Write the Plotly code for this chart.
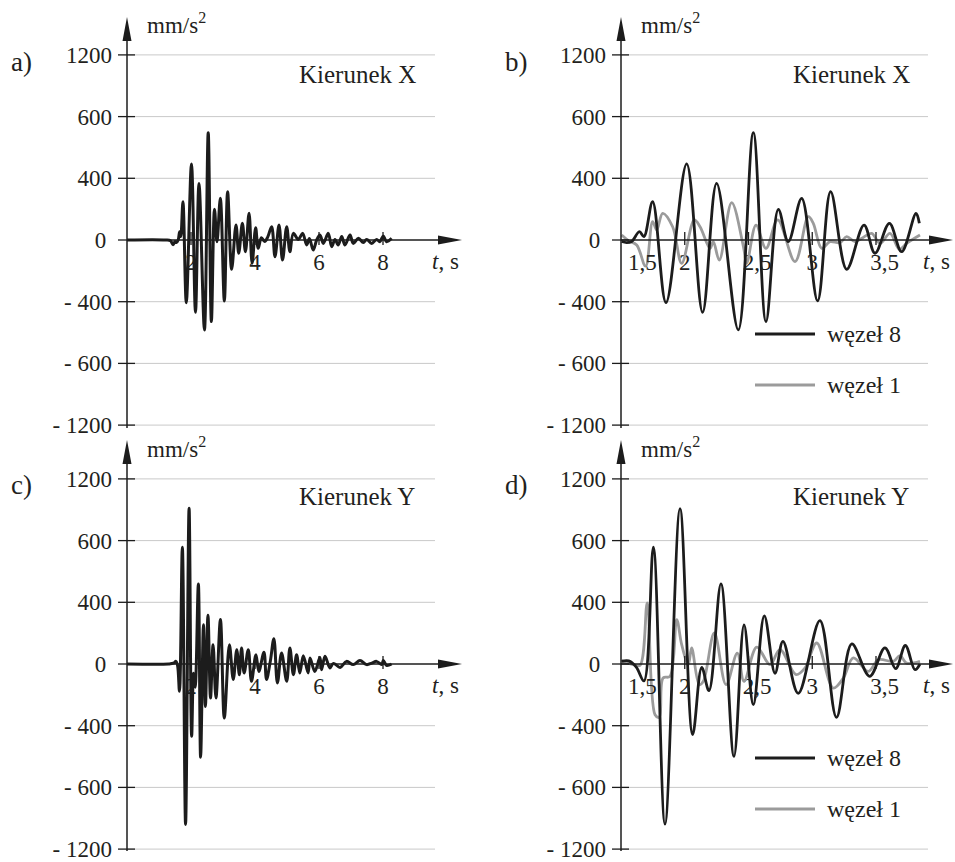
import plotly.graph_objects as go

W, H = 955, 862
FONT = "Liberation Serif"
TXT = "#231f20"
BLACK = "#1c1c1c"
GRAY = "#9b9b9b"
GRID = "#c9c9c9"

# ---------------- data ----------------
y_tickvals = [-1200, -800, -400, 0, 400, 800, 1200]
y_ticktext = ["- 1200", "- 600", "- 400", "0", "400", "600", "1200"]
xa_tickvals = [2, 4, 6, 8]
xa_ticktext = ["2", "4", "6", "8"]
xb_tickvals = [1.5, 2, 2.5, 3, 3.5]
xb_ticktext = ["1,5", "2", "2,5", "3", "3,5"]

# a) Kierunek X, full record
t_a = [0.0, 1.20, 1.36, 1.44, 1.50, 1.544, 1.60, 1.644, 1.68, 1.748, 1.853, 2.015, 2.14, 2.25, 2.42,
       2.538, 2.637, 2.734, 2.812, 2.917, 3.042, 3.144, 3.27, 3.406, 3.492, 3.605, 3.701, 3.814, 3.91,
       4.02, 4.10, 4.20, 4.30, 4.40, 4.52, 4.625, 4.75, 4.86, 4.99, 5.09, 5.198, 5.354, 5.49, 5.615,
       5.70, 5.82, 5.927, 6.03, 6.135, 6.29, 6.396, 6.50, 6.60, 6.71, 6.81, 6.97, 7.07, 7.23, 7.385,
       7.49, 7.646, 7.80, 7.90, 8.01, 8.11, 8.27]
acc_a = [0, 0, -5, -30, -10, -17, 0, 54, 22, 248, -406, 493, -469, 367, -583,
         696, -529, 199, -11, 270, -395, 313, -190, 97, -86, 108, -76, 173, -151,
         80, -54, 15, -10, 20, 86, -108, 97, -130, 86, -76, 43, 4, 43, -32,
         10, -65, 0, 32, -22, 43, -43, 4, -32, 22, -32, 32, -22, 11, -17,
         4, -22, 4, -11, 26, -11, 11]

# b) Kierunek X, zoomed: wezel 8 and wezel 1
t_b8 = [1.505, 1.544, 1.584, 1.644, 1.68, 1.748, 1.853, 2.015, 2.14, 2.25, 2.42, 2.538, 2.637,
        2.734, 2.812, 2.917, 3.042, 3.144, 3.27, 3.406, 3.492, 3.605, 3.701, 3.814, 3.84]
acc_b8 = [-10, -17, -10, 54, 22, 248, -406, 493, -469, 367, -583, 696, -529,
          199, -11, 270, -395, 313, -190, 97, -86, 108, -76, 173, 108]
t_b1 = [1.505, 1.558, 1.623, 1.693, 1.748, 1.78, 1.827, 1.905, 1.976, 2.075, 2.12, 2.198, 2.224,
        2.271, 2.368, 2.46, 2.486, 2.559, 2.637, 2.729, 2.865, 2.969, 3.008, 3.074, 3.139, 3.218,
        3.27, 3.335, 3.40, 3.466, 3.531, 3.61, 3.683, 3.74, 3.845]
acc_b1 = [32, -4, -32, -170, 119, 65, 173, 86, -151, 130, 86, -54, -11,
          -130, 242, -43, -151, 97, -54, 130, -140, 151, 108, -54, -11, -17,
          22, -11, 17, 43, -22, 43, -60, -22, 32]

# c) Kierunek Y, full record
t_c = [0.0, 1.30, 1.45, 1.53, 1.58, 1.64, 1.73, 1.83, 1.94, 2.02, 2.08, 2.13, 2.23, 2.30, 2.39,
       2.45, 2.53, 2.61, 2.69, 2.78, 2.92, 3.04, 3.20, 3.32, 3.43, 3.51, 3.58, 3.66, 3.79, 3.89,
       4.03, 4.12, 4.28, 4.36, 4.48, 4.59, 4.70, 4.83, 4.99, 5.09, 5.20, 5.30, 5.40, 5.51, 5.66,
       5.72, 5.87, 6.03, 6.08, 6.19, 6.34, 6.45, 6.66, 6.86, 7.07, 7.28, 7.49, 7.65, 7.80, 7.96,
       8.01, 8.11, 8.27]
acc_c = [0, 0, 5, 17, -10, -177, 757, -1040, 1010, -469, -60, -150, 519, -605, 255,
         -275, 316, -220, 125, -220, 288, -350, 125, -100, 93, -70, 104, -58, 93, -112,
         60, -48, 76, -100, 20, 164, -123, 71, -112, 104, -69, 60, -58, 54, -58,
         39, -48, 43, -37, 50, -26, 4, -22, 17, -4, 22, -4, 6, 17, -4,
         22, -9, 0]

# d) Kierunek Y, zoomed: wezel 8 and wezel 1
t_d8 = [1.505, 1.56, 1.62, 1.68, 1.754, 1.845, 1.963, 2.062, 2.133, 2.19, 2.284, 2.386, 2.465,
        2.538, 2.624, 2.708, 2.77, 2.89, 3.06, 3.19, 3.31, 3.45, 3.57, 3.655, 3.73, 3.806, 3.845]
acc_d8 = [17, 20, -20, -110, 757, -1038, 1007, -458, -22, -173, 519, -599, 253,
          -264, 312, -60, 147, -190, 281, -346, 130, -80, 104, -30, 120, -37, 0]
t_d1 = [1.505, 1.597, 1.649, 1.706, 1.767, 1.80, 1.83, 1.884, 1.937, 1.976, 2.028, 2.054, 2.114,
        2.146, 2.232, 2.324, 2.412, 2.465, 2.565, 2.669, 2.747, 2.873, 2.943, 3.035, 3.165, 3.244,
        3.322, 3.44, 3.518, 3.636, 3.688, 3.74, 3.845]
acc_d1 = [22, -4, -9, 396, -329, -346, -91, -80, 288, 125, -4, 104, -134,
          -112, 201, -134, 71, -112, 110, -4, 93, -69, -26, 136, -156, -91,
          39, -48, 28, 17, 54, 6, 17]

panel_labels = ["a)", "b)", "c)", "d)"]
directions = ["Kierunek X", "Kierunek X", "Kierunek Y", "Kierunek Y"]
unit_label = "mm/s<sup>2</sup>"
axis_label = "<i>t</i>, s"
legend_names = ["węzeł 8", "węzeł 1"]

# ---------------- geometry (pixels) ----------------
PXU = 61.7 / 400.0  # px per mm/s2 unit
LPAD = 14           # px of room left of the y axis inside the subplot
TPAD = 3            # px of room above the arrow tip


def xdom(p0, p1):
    return [p0 / W, p1 / W]


def ydom(top, bottom):
    return [1 - bottom / H, 1 - top / H]


panels = [
    dict(ax=127, xe=462, x0=0.0, pps=32.0, yt=17, yb=428, z=240, gend=435,
         tv=xa_tickvals, tt=xa_ticktext, pad=[0, 0, 0, 0]),
    dict(ax=621, xe=953, x0=1.5, pps=127.5, yt=17, yb=428, z=240, gend=928,
         tv=xb_tickvals, tt=xb_ticktext, pad=[0, 0, 3, 0, 3]),
    dict(ax=127, xe=462, x0=0.0, pps=32.0, yt=440, yb=851, z=664, gend=435,
         tv=xa_tickvals, tt=xa_ticktext, pad=[0, 0, 0, 0]),
    dict(ax=621, xe=953, x0=1.5, pps=127.5, yt=440, yb=851, z=664, gend=928,
         tv=xb_tickvals, tt=xb_ticktext, pad=[0, 0, 3, 0, 3]),
]

series = [
    [(t_a, acc_a, BLACK, 3.0)],
    [(t_b1, acc_b1, GRAY, 2.8), (t_b8, acc_b8, BLACK, 2.8)],
    [(t_c, acc_c, BLACK, 3.0)],
    [(t_d1, acc_d1, GRAY, 2.8), (t_d8, acc_d8, BLACK, 2.8)],
]

fig = go.Figure()
shapes = []
annotations = []
layout = {}

for i, p in enumerate(panels):
    n = "" if i == 0 else str(i + 1)
    xr, yr = "x" + n, "y" + n
    x0 = p["x0"]
    xs = x0 - LPAD / p["pps"]
    x1 = x0 + (p["xe"] - p["ax"]) / p["pps"]
    ytip = (p["z"] - p["yt"]) / PXU
    ymax = (p["z"] - p["yt"] + TPAD) / PXU
    ymin = -(p["yb"] - p["z"]) / PXU
    gx = x0 + (p["gend"] - p["ax"]) / p["pps"]

    for (tx, vy, col, lw) in series[i]:
        fig.add_trace(go.Scatter(x=tx, y=vy, mode="lines", xaxis=xr, yaxis=yr,
                                 line=dict(color=col, width=lw, shape="spline", smoothing=1.0),
                                 showlegend=False, hoverinfo="skip"))

    # x tick labels: the one sitting on the y axis is set just right of it
    tvals, ttext = [], []
    for k, (v, s) in enumerate(zip(p["tv"], p["tt"])):
        if v == x0:
            annotations.append(dict(text=s, xref=xr, yref=yr, x=v, y=0, xanchor="left",
                                    yanchor="middle", xshift=5, yshift=-22, showarrow=False,
                                    font=dict(family=FONT, size=23, color=TXT)))
        else:
            tvals.append(v)
            ttext.append("\u00a0" * p["pad"][k] + s)
    layout["xaxis" + n] = dict(domain=xdom(p["ax"] - LPAD, p["xe"]), range=[xs, x1], anchor="free",
                               position=1 - p["z"] / H, showgrid=False, zeroline=False,
                               showline=False, ticks="", tickvals=tvals, ticktext=ttext,
                               tickfont=dict(family=FONT, size=23, color=TXT), automargin=False,
                               layer="below traces", ticklabelstandoff=6, fixedrange=True,
                               ticklabeloverflow="allow")
    ytt = [s + "\u00a0" if s == "0" else s for s in y_ticktext]
    layout["yaxis" + n] = dict(domain=ydom(p["yt"] - TPAD, p["yb"]), range=[ymin, ymax],
                               anchor="free", position=p["ax"] / W,
                               showgrid=False, zeroline=False, showline=False, ticks="",
                               tickvals=y_tickvals, ticktext=ytt, automargin=False,
                               tickfont=dict(family=FONT, size=23, color=TXT),
                               ticklabelstandoff=15, fixedrange=True, ticklabeloverflow="allow")

    # light horizontal gridlines
    for v in y_tickvals:
        if v == 0:
            continue
        shapes.append(dict(type="line", xref=xr, yref=yr, x0=x0, x1=gx, y0=v, y1=v,
                           line=dict(color=GRID, width=1), layer="below"))
    # y tick marks crossing the axis
    for v in y_tickvals:
        shapes.append(dict(type="line", xref=xr, yref=yr, xsizemode="pixel", xanchor=x0,
                           x0=-9, x1=8, y0=v, y1=v, line=dict(color=BLACK, width=1.3)))
    # x tick marks
    for v in p["tv"]:
        if v == x0:
            continue
        shapes.append(dict(type="line", xref=xr, yref=yr, ysizemode="pixel", yanchor=0,
                           y0=-5, y1=8, x0=v, x1=v, line=dict(color=BLACK, width=1.3)))
    # axis lines
    shapes.append(dict(type="line", xref=xr, yref=yr, x0=x0, x1=x1 - 10 / p["pps"], y0=0, y1=0,
                       line=dict(color=BLACK, width=1.5)))
    shapes.append(dict(type="line", xref=xr, yref=yr, x0=x0, x1=x0, y0=ymin,
                       y1=ytip - 10 / PXU, line=dict(color=BLACK, width=1.5)))
    # arrow heads
    shapes.append(dict(type="path", xref=xr, yref=yr, xsizemode="pixel", ysizemode="pixel",
                       xanchor=x1, yanchor=0, path="M0,0 L-24,4.5 L-24,-4.5 Z",
                       fillcolor=BLACK, line=dict(width=0)))
    shapes.append(dict(type="path", xref=xr, yref=yr, xsizemode="pixel", ysizemode="pixel",
                       xanchor=x0, yanchor=ytip, path="M0,0 L-4.5,-24 L4.5,-24 Z",
                       fillcolor=BLACK, line=dict(width=0)))

    # texts
    left = p["ax"]
    top = p["yt"]
    annotations.append(dict(text=panel_labels[i], xref="paper", yref="paper",
                            x=(left - 118) / W, y=1 - (top + 45) / H, xanchor="left", yanchor="middle",
                            showarrow=False, font=dict(family=FONT, size=27, color=TXT)))
    annotations.append(dict(text=unit_label, xref="paper", yref="paper",
                            x=(left + 18) / W, y=1 - (top + 7) / H, xanchor="left", yanchor="middle",
                            showarrow=False, font=dict(family=FONT, size=23, color=TXT)))
    annotations.append(dict(text=directions[i], xref="paper", yref="paper",
                            x=(left + 170) / W, y=1 - (top + 57) / H, xanchor="left", yanchor="middle",
                            showarrow=False, font=dict(family=FONT, size=25, color=TXT)))
    annotations.append(dict(text=axis_label, xref="paper", yref="paper",
                            x=(p["xe"] - 32) / W, y=1 - (p["z"] + 21) / H, xanchor="left",
                            yanchor="middle", showarrow=False,
                            font=dict(family=FONT, size=23, color=TXT)))

    # legend of the zoomed panels
    if len(series[i]) == 2:
        for k, (name, col) in enumerate(zip(legend_names, [BLACK, GRAY])):
            ly = p["z"] + 94 + k * 51
            shapes.append(dict(type="line", xref="paper", yref="paper", x0=755 / W, x1=815 / W,
                               y0=1 - ly / H, y1=1 - ly / H, line=dict(color=col, width=3)))
            annotations.append(dict(text=name, xref="paper", yref="paper", x=825 / W,
                                    y=1 - ly / H, xanchor="left", yanchor="middle",
                                    showarrow=False, font=dict(family=FONT, size=24, color=TXT)))

fig.update_layout(width=W, height=H, margin=dict(l=0, r=0, t=0, b=0, autoexpand=False),
                  paper_bgcolor="white", plot_bgcolor="white", showlegend=False,
                  font=dict(family=FONT, color=TXT),
                  shapes=shapes, annotations=annotations, **layout)

fig.write_html("out.html")
